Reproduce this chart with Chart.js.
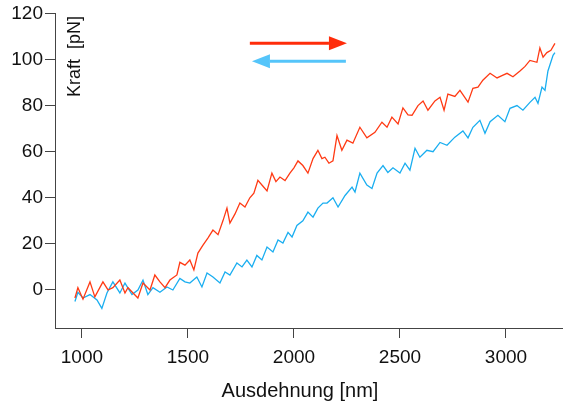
<!DOCTYPE html>
<html>
<head>
<meta charset="utf-8">
<script src="https://cdn.jsdelivr.net/npm/chart.js@4.4.1/dist/chart.umd.min.js"></script>
<style>
  html, body { margin: 0; padding: 0; background: #fff; }
  #wrap { width: 563px; height: 403px; }
</style>
</head>
<body>
<div id="wrap"><canvas id="myChart" width="563" height="403"></canvas></div>
<script>
// extension (red) and retraction (blue), Ausdehnung in nm, Kraft in pN
const extX = [967, 981, 1005, 1038, 1061, 1099, 1123, 1146, 1179, 1203, 1217, 1241, 1264, 1288, 1321, 1344, 1368, 1392, 1415, 1448,
  1462, 1486, 1509, 1528, 1547, 1571, 1594, 1618, 1642, 1665, 1684, 1698, 1722, 1745, 1769, 1792, 1811, 1830, 1854, 1873,
  1896, 1915, 1934, 1958, 1981, 2000, 2019, 2042, 2066, 2090, 2113, 2132, 2146, 2165, 2184, 2203, 2226, 2250, 2278, 2311,
  2344, 2382, 2415, 2439, 2462, 2491, 2514, 2538, 2557, 2585, 2609, 2632, 2665, 2689, 2708, 2726, 2759, 2783, 2821, 2844,
  2868, 2891, 2925, 2958, 2981, 3005, 3033, 3066, 3090, 3113, 3146, 3160, 3175, 3193, 3212, 3231]
const extY = [-3.5, 1, -4, 3.5, -3, 3.5, 0, 1, 4.3, -1.3, 1, -1.3, -3.5, 3, 0, 6.5, 3.5, 1, 4.3, 6.5,
  12, 10.8, 13, 8.7, 16, 19.5, 22.5, 26, 24, 30, 35.5, 29, 33, 37.7, 36, 40, 42, 47.6, 45, 43,
  50.7, 47, 49, 47.5, 50.7, 53, 56, 54, 50.7, 57, 60.6, 57, 57.6, 55, 56, 67, 60.6, 65, 63.7, 70.6,
  66, 68.4, 72.8, 70.6, 75, 72, 79, 76, 75.8, 80, 82, 78, 82, 83.6, 78, 85, 84, 86.6, 81.5, 87.5,
  88, 91, 94, 92, 93, 94, 92.5, 95, 97, 99.6, 98.8, 105, 101, 103, 104, 107]

const retX = [967, 981, 1005, 1038, 1071, 1094, 1118, 1146, 1179, 1203, 1236, 1264, 1288, 1311, 1335, 1368, 1401, 1429, 1462, 1486,
  1509, 1542, 1566, 1590, 1618, 1651, 1675, 1698, 1731, 1755, 1778, 1802, 1825, 1849, 1873, 1901, 1925, 1948, 1972, 1991,
  2014, 2042, 2066, 2090, 2113, 2137, 2156, 2184, 2208, 2241, 2274, 2288, 2311, 2344, 2368, 2392, 2420, 2443, 2467, 2500,
  2524, 2547, 2571, 2594, 2627, 2656, 2689, 2722, 2759, 2797, 2821, 2844, 2877, 2901, 2925, 2962, 2995, 3019, 3052, 3080,
  3113, 3137, 3151, 3170, 3184, 3198, 3222, 3231]
const retY = [-5, -1, -3.5, -2, -4.3, -8, -1.3, 3.5, -1.3, 3, -2, 0, 4.3, -2, 1, -1, 1.3, 0, 5, 3.5,
  3, 5.6, 1.3, 7.4, 5.6, 3, 7.8, 6.5, 11.7, 10, 13, 10, 15, 13, 18.6, 16.5, 21.7, 20.4, 25, 23,
  28, 30, 33.8, 31.6, 35.5, 37.7, 37.7, 40, 36, 41, 44.6, 42.5, 50.7, 45.5, 44, 50.7, 54, 51, 53, 50.7,
  55, 52, 61.5, 57.6, 60.6, 60, 64, 62.8, 66.3, 69, 66, 70.6, 73.6, 68, 73, 75.8, 73, 78.8, 80, 78,
  81.4, 83.6, 81, 88, 86.6, 95, 101.8, 103]

const xTicks = [1000, 1500, 2000, 2500, 3000]
const yTicks = [0, 20, 40, 60, 80, 100, 120]

// direction arrows, in data units
const redArrowX = [1792, 2250]
const redArrowY = 107
const blueArrowX = [2245, 1802]
const blueArrowY = 99.2

const red = '#ff3a14'
const blue = '#1aaef0'
const font = 'Liberation Sans, Arial, sans-serif'

function toPoints(xs, ys) {
  return xs.map((v, i) => ({ x: v, y: ys[i] }))
}

function drawArrow(ctx, x0, x1, y, color) {
  const dir = x1 > x0 ? 1 : -1
  const head = 18
  ctx.save()
  ctx.strokeStyle = color
  ctx.fillStyle = color
  ctx.lineWidth = 3
  ctx.beginPath()
  ctx.moveTo(x0, y)
  ctx.lineTo(x1 - dir * head, y)
  ctx.stroke()
  ctx.beginPath()
  ctx.moveTo(x1, y)
  ctx.lineTo(x1 - dir * head, y - 7)
  ctx.lineTo(x1 - dir * head, y + 7)
  ctx.closePath()
  ctx.fill()
  ctx.restore()
}

const extras = {
  id: 'extras',
  afterDraw(chart) {
    const ctx = chart.ctx
    const xs = chart.scales.x
    const ys = chart.scales.y
    const area = chart.chartArea
    drawArrow(ctx, xs.getPixelForValue(redArrowX[0]), xs.getPixelForValue(redArrowX[1]), ys.getPixelForValue(redArrowY), '#ff2c0a')
    drawArrow(ctx, xs.getPixelForValue(blueArrowX[0]), xs.getPixelForValue(blueArrowX[1]), ys.getPixelForValue(blueArrowY), '#55c5fa')

    ctx.save()
    ctx.fillStyle = '#111'
    ctx.font = '18px ' + font
    ctx.textAlign = 'center'
    ctx.textBaseline = 'middle'
    ctx.translate(area.left + 20, area.top + 43)
    ctx.rotate(-Math.PI / 2)
    ctx.fillText('Kraft  [pN]', 0, 0)
    ctx.restore()

    ctx.save()
    ctx.fillStyle = '#111'
    ctx.font = '20px ' + font
    ctx.textAlign = 'center'
    ctx.textBaseline = 'middle'
    ctx.fillText('Ausdehnung [nm]', (area.left + area.right) / 2 - 9, chart.height - 12)
    ctx.restore()
  }
}

const ctx = document.getElementById('myChart')

new Chart(ctx, {
  type: 'line',
  data: {
    datasets: [
      { data: toPoints(extX, extY), borderColor: red, borderWidth: 1.3, pointRadius: 0, tension: 0, order: 1 },
      { data: toPoints(retX, retY), borderColor: blue, borderWidth: 1.3, pointRadius: 0, tension: 0, order: 2 }
    ]
  },
  options: {
    responsive: false,
    animation: false,
    layout: { padding: { top: 13, right: 0, left: 0, bottom: 0 } },
    scales: {
      x: {
        type: 'linear',
        min: 873,
        max: 3269,
        afterBuildTicks: (s) => { s.ticks = xTicks.map(v => ({ value: v })) },
        afterFit: (s) => { s.height = 75 },
        grid: { drawOnChartArea: false, drawTicks: true, tickLength: 10, color: '#444' },
        border: { display: true, color: '#444', width: 1 },
        ticks: { color: '#111', font: { size: 19, family: font }, padding: 8, maxRotation: 0, callback: (v) => String(v) }
      },
      y: {
        min: -16.5,
        max: 120,
        afterBuildTicks: (s) => { s.ticks = yTicks.map(v => ({ value: v })) },
        afterFit: (s) => { s.width = 55 },
        grid: { drawOnChartArea: false, drawTicks: true, tickLength: 10, color: '#444' },
        border: { display: true, color: '#444', width: 1 },
        ticks: { color: '#111', font: { size: 19, family: font }, padding: 2, callback: (v) => String(v) }
      }
    },
    plugins: {
      legend: { display: false },
      tooltip: { enabled: false }
    }
  },
  plugins: [extras]
})
</script>
</body>
</html>
